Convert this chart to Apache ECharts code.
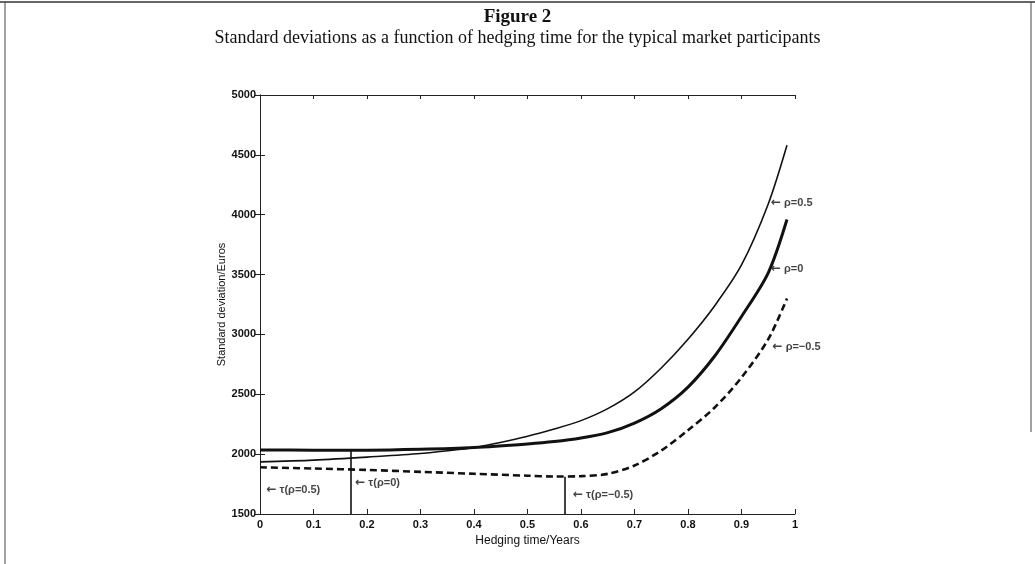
<!DOCTYPE html>
<html>
<head>
<meta charset="utf-8">
<title>Figure 2</title>
<script src="https://cdn.jsdelivr.net/npm/echarts@6/dist/echarts.min.js"></script>
<style>
	html, body { margin: 0; padding: 0; background: #fff; }
	#main { width: 1035px; height: 564px; }
</style>
</head>
<body>
<div id="main"></div>
<script>
	// hedging time (years)
	var hedgeTime = [0, 0.1, 0.2, 0.3, 0.4, 0.5, 0.55, 0.6, 0.65, 0.7, 0.75, 0.8, 0.85, 0.9, 0.95, 0.985];
	// standard deviation / Euros
	var sdRhoPos = [1935, 1950, 1975, 2005, 2055, 2150, 2210, 2280, 2380, 2520, 2720, 2960, 3240, 3580, 4090, 4580];
	var sdRhoZero = [2035, 2033, 2033, 2040, 2055, 2085, 2105, 2135, 2180, 2260, 2380, 2560, 2820, 3150, 3515, 3960];
	var sdRhoNeg = [1890, 1880, 1868, 1852, 1836, 1820, 1813, 1816, 1835, 1905, 2030, 2200, 2390, 2640, 2960, 3300];

	// optimal hedging times tau and the curve value there
	var tauX = [0.17, 0.57];
	var tauY = [2032, 1812];

	// annotation text
	var tauText = ['\u03c4(\u03c1=0.5)', '\u03c4(\u03c1=0)', '\u03c4(\u03c1=\u22120.5)'];
	var tauTextX = [0.012, 0.178, 0.585];
	var tauTextY = [1700, 1758, 1660];
	var rhoText = ['\u03c1=0.5', '\u03c1=0', '\u03c1=\u22120.5'];
	var rhoTextX = [0.955, 0.955, 0.958];
	var rhoTextY = [4100, 3545, 2895];

	var yTicks = [1500, 2000, 2500, 3000, 3500, 4000, 4500, 5000];

	function pairs(xs, ys){
		var out = [];
		for (var i = 0; i < xs.length; i++){
			out.push([xs[i], ys[i]]);
		}
		return out;
	}

	var tauLines = [];
	for (var i = 0; i < tauX.length; i++){
		tauLines.push([{coord: [tauX[i], yTicks[0]]}, {coord: [tauX[i], tauY[i]]}]);
	}

	var annot = pairs(tauTextX, tauTextY).map(function(p, i){ return {value: p, name: tauText[i]}; })
		.concat(pairs(rhoTextX, rhoTextY).map(function(p, i){ return {value: p, name: rhoText[i]}; }));

	var axisFont = { fontFamily: 'Liberation Sans', fontSize: 11, fontWeight: 'bold', color: '#111' };

	var chart = echarts.init(document.getElementById('main'));
	chart.setOption({
		animation: false,
		backgroundColor: '#fff',
		title: [
			{
				text: 'Figure 2',
				left: 'center', top: 3,
				textStyle: { fontFamily: 'Liberation Serif', fontSize: 19, fontWeight: 'bold', color: '#111' }
			},
			{
				text: 'Standard deviations as a function of hedging time for the typical market participants',
				left: 'center', top: 24,
				textStyle: { fontFamily: 'Liberation Serif', fontSize: 18, fontWeight: 'normal', color: '#111' }
			}
		],
		grid: { left: 260, right: 240, top: 95, bottom: 50 },
		xAxis: [
			{
				type: 'value', min: 0, max: 1, interval: 0.1,
				name: 'Hedging time/Years', nameLocation: 'middle', nameGap: 20,
				nameTextStyle: { fontFamily: 'Liberation Sans', fontSize: 12, color: '#111' },
				axisLine: { lineStyle: { color: '#222', width: 1 } },
				axisTick: { inside: true, length: 5, lineStyle: { color: '#222' } },
				axisLabel: Object.assign({ margin: 5, formatter: function(v){ return +v.toFixed(1) + ''; } }, axisFont),
				splitLine: { show: false }
			},
			{
				type: 'value', min: 0, max: 1, interval: 0.1, position: 'top',
				axisLine: { lineStyle: { color: '#222', width: 1 } },
				axisTick: { inside: true, length: 4, lineStyle: { color: '#222' } },
				axisLabel: { show: false },
				splitLine: { show: false }
			}
		],
		yAxis: [
			{
				type: 'value', min: 1500, max: 5000, interval: 500,
				name: 'Standard deviation/Euros', nameLocation: 'middle', nameGap: 33,
				nameMoveOverlap: false,
				nameTextStyle: { fontFamily: 'Liberation Sans', fontSize: 11, color: '#111' },
				axisLine: { show: true, lineStyle: { color: '#222', width: 1 } },
				axisTick: { show: true, inside: true, length: 5, lineStyle: { color: '#222' } },
				axisLabel: Object.assign({ margin: 4, formatter: function(v){ return v + ''; } }, axisFont),
				splitLine: { show: false }
			},
			{
				type: 'value', min: 1500, max: 5000, interval: 500, position: 'right',
				axisLine: { show: true, lineStyle: { color: '#222', width: 1 } },
				axisTick: { show: true, inside: true, length: 5, lineStyle: { color: '#222' } },
				axisLabel: { show: false },
				splitLine: { show: false }
			}
		],
		series: [
			{
				name: 'rho=0.5', type: 'line', smooth: 0.3, showSymbol: false,
				data: pairs(hedgeTime, sdRhoPos),
				lineStyle: { color: '#111', width: 1.6 }
			},
			{
				name: 'rho=0', type: 'line', smooth: 0.3, showSymbol: false,
				data: pairs(hedgeTime, sdRhoZero),
				lineStyle: { color: '#111', width: 3 },
				markLine: {
					silent: true, symbol: 'none', label: { show: false },
					lineStyle: { color: '#111', width: 1.6, type: 'solid' },
					data: tauLines
				}
			},
			{
				name: 'rho=-0.5', type: 'line', smooth: 0.3, showSymbol: false,
				data: pairs(hedgeTime, sdRhoNeg),
				lineStyle: { color: '#111', width: 2.6, type: [7, 4] }
			},
			{
				name: 'labels', type: 'scatter', symbolSize: 0,
				data: annot,
				label: {
					show: true, position: 'right', distance: 0,
					formatter: '{a|\u2190} {b}',
					fontFamily: 'Liberation Sans', fontSize: 11, fontWeight: 'bold', color: '#111',
					rich: {
						a: { fontFamily: 'DejaVu Sans', fontSize: 12, color: '#111' }
					}
				}
			}
		],
		graphic: [
			{ type: 'line', shape: { x1: 0, y1: 2, x2: 1035, y2: 2 }, style: { stroke: '#666', lineWidth: 2 } },
			{ type: 'line', shape: { x1: 5, y1: 2, x2: 5, y2: 564 }, style: { stroke: '#444', lineWidth: 1 } },
			{ type: 'line', shape: { x1: 1031, y1: 2, x2: 1031, y2: 432 }, style: { stroke: '#444', lineWidth: 1 } }
		]
	});
</script>
</body>
</html>
